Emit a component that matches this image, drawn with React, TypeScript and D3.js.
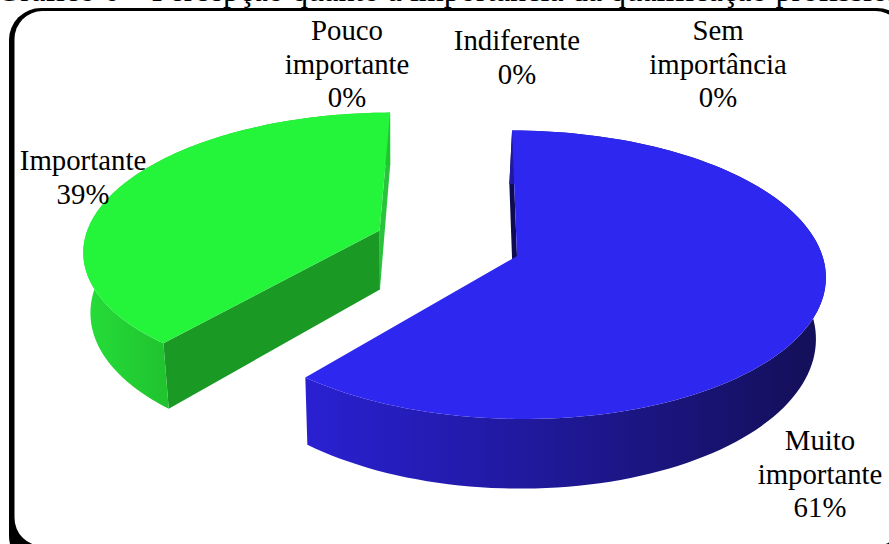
import React from "react";
import * as d3 from "d3";

// Survey answers, in the order the slices run clockwise from twelve o'clock.
const categories = ["Muito importante", "Importante", "Pouco importante", "Indiferente", "Sem importância"];
const shares = [61, 39, 0, 0, 0];

const titleText = "Gráfico 6 – Percepção quanto à importância da qualificação profissional";

type Slot = { cat: string; x: number; y: number; lines: string[] };
const labelSlots: Slot[] = [
  { cat: "Pouco importante", x: 347, y: 40, lines: ["Pouco", "importante"] },
  { cat: "Indiferente", x: 517, y: 50, lines: ["Indiferente"] },
  { cat: "Sem importância", x: 718, y: 40, lines: ["Sem", "importância"] },
  { cat: "Importante", x: 83, y: 170, lines: ["Importante"] },
  { cat: "Muito importante", x: 820, y: 450, lines: ["Muito", "importante"] },
];

const W = 889;
const H = 544;
const FONT = "'Liberation Serif', 'Times New Roman', serif";

// Tilted disc: perspective projection of the unit circle onto the page.
const hub = { x: 517, y: 256 };
const radiusX = 307;
const radiusY = 142.5;
const shearX = 5.6;
const foreshorten = 0.131;
const rimDepth = 60.5;
const vanishX = 394;
const converge = 0.023;

type Pt = [number, number];

const project = (u: number, v: number): Pt => {
  const w = 1 - foreshorten * v;
  return [hub.x + (radiusX * u + shearX * v) / w, hub.y + (radiusY * v) / w];
};

const lowered = (u: number, v: number): Pt => {
  const w = 1 - foreshorten * v;
  const [x, y] = project(u, v);
  return [x + converge * (vanishX - x), y + rimDepth / w];
};

const closedPath = d3.line<Pt>().x((d) => d[0]).y((d) => d[1]);
const poly = (pts: Pt[]) => closedPath(pts) + "Z";

type SliceStyle = {
  top: string;
  rimFrom: string;
  rimTo: string;
  rimX: [number, number];
  startFace: string;
  endFace: string | null;
  offset: [number, number];
  radius: number;
};

const styles: Record<string, SliceStyle> = {
  "Muito importante": {
    top: "#2e27f0",
    rimFrom: "#2a20d2",
    rimTo: "#14105c",
    rimX: [307, 800],
    startFace: "#0e0b50",
    endFace: null,
    offset: [0, 0],
    radius: 0.995,
  },
  Importante: {
    top: "#24f53a",
    rimFrom: "#25dc38",
    rimTo: "#20c42f",
    rimX: [90, 163],
    startFace: "#1a9a25",
    endFace: "#2ac43c",
    offset: [-0.455, -0.184],
    radius: 0.975,
  },
};

const pieLayout = d3
  .pie<number>()
  .sort(null)
  .value((d) => d);

export default function App() {
  const arcs = pieLayout(shares);
  const slices = arcs
    .map((a, i) => ({ a, cat: categories[i], value: shares[i] }))
    .filter((s) => s.value > 0)
    .map((s) => {
      const st = styles[s.cat];
      const [ou, ov] = st.offset;
      const thetas = d3.range(0, 121).map((k) => s.a.startAngle + ((s.a.endAngle - s.a.startAngle) * k) / 120);
      const rim = thetas.map((t): Pt => [ou + st.radius * Math.sin(t), ov - st.radius * Math.cos(t)]);
      const top = rim.map(([u, v]) => project(u, v));
      const low = rim.map(([u, v]) => lowered(u, v));
      const apexTop = project(ou, ov);
      const apexLow = lowered(ou, ov);
      return {
        cat: s.cat,
        st,
        topFace: poly([apexTop, ...top]),
        rimFace: poly([...top, ...low.slice().reverse()]),
        // Cut face along the first radius of the slice.
        startFace: poly([apexTop, top[0], low[0], apexLow]),
        // Cut face along the last radius of the slice.
        endFace: poly([apexTop, top[top.length - 1], low[low.length - 1], apexLow]),
      };
    });

  const valueOf = (cat: string) => shares[categories.indexOf(cat)];

  return (
    <svg
      width={W}
      height={H}
      viewBox={`0 0 ${W} ${H}`}
      style={{ position: "absolute", left: 0, top: 0, background: "#fff" }}
    >
      <defs>
        {slices.map((s, i) => (
          <linearGradient
            key={s.cat}
            id={`rim-${i}`}
            gradientUnits="userSpaceOnUse"
            x1={s.st.rimX[0]}
            x2={s.st.rimX[1]}
            y1={0}
            y2={0}
          >
            <stop offset="0" stopColor={s.st.rimFrom} />
            <stop offset="1" stopColor={s.st.rimTo} />
          </linearGradient>
        ))}
      </defs>

      <text x={-3} y={1} fontFamily={FONT} fontSize={32.2} fill="#000">
        {titleText}
      </text>

      {/* Frame: heavier at the sides than along the top */}
      <rect x={9} y={8} width={900} height={560} rx={32} ry={32} fill="#000" />
      <rect x={14.5} y={11} width={889} height={535} rx={28} ry={28} fill="#fff" />

      {slices.map((s, i) => (
        <g key={s.cat}>
          {s.st.endFace && <path d={s.endFace} fill={s.st.endFace} />}
          <path d={s.startFace} fill={s.st.startFace} />
          <path d={s.rimFace} fill={`url(#rim-${i})`} />
          <path d={s.topFace} fill={s.st.top} />
        </g>
      ))}

      {labelSlots.map((l) => (
        <text key={l.cat} fontFamily={FONT} fontSize={28.8} fill="#000" textAnchor="middle">
          {[...l.lines, `${valueOf(l.cat)}%`].map((line, j) => (
            <tspan key={j} x={l.x} y={l.y + j * 33.5}>
              {line}
            </tspan>
          ))}
        </text>
      ))}
    </svg>
  );
}
